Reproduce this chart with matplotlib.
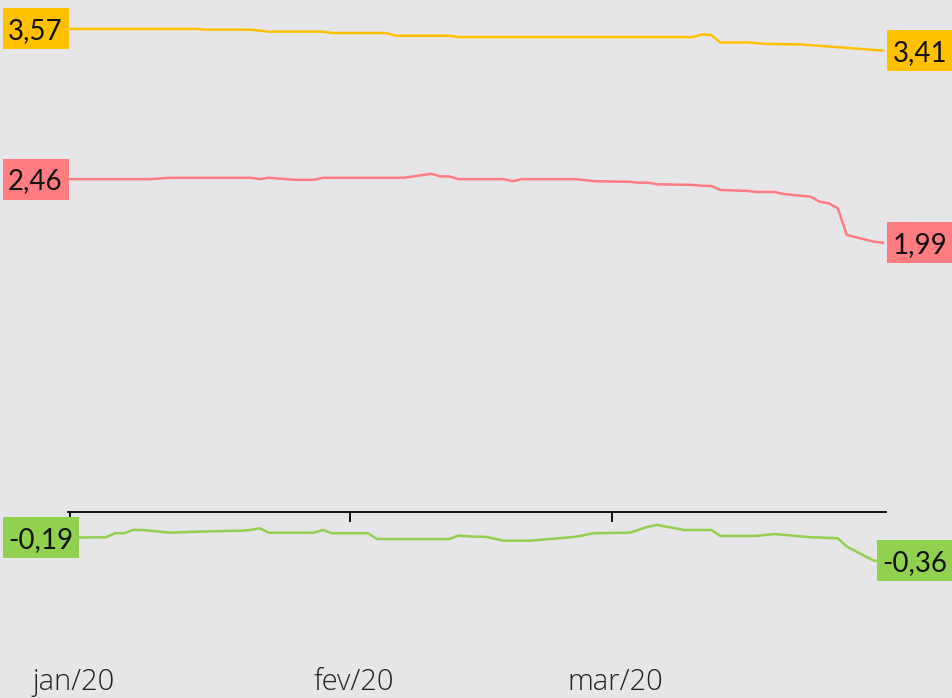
import numpy as np
import pandas as pd
import matplotlib
matplotlib.use('Agg')
import matplotlib.pyplot as plt
import matplotlib.dates as mdates
import matplotlib.transforms as mtrans
from matplotlib.patches import Rectangle

### === data ===
yellow_dates = ['2020-01-01', '2020-01-15', '2020-01-16', '2020-01-21', '2020-01-23', '2020-01-29',
                '2020-01-30', '2020-02-05', '2020-02-06', '2020-02-12', '2020-02-13', '2020-03-10',
                '2020-03-11', '2020-03-12', '2020-03-13', '2020-03-16', '2020-03-18', '2020-03-22',
                '2020-03-24', '2020-03-31']
yellow_vals = [3.57, 3.57, 3.565, 3.565, 3.55, 3.55,
               3.54, 3.54, 3.52, 3.52, 3.51, 3.51,
               3.53, 3.525, 3.47, 3.47, 3.46, 3.455,
               3.445, 3.41]

pink_dates = ['2020-01-01', '2020-01-10', '2020-01-12', '2020-01-21', '2020-01-22', '2020-01-23',
              '2020-01-26', '2020-01-28', '2020-01-29', '2020-02-07', '2020-02-10', '2020-02-11',
              '2020-02-12', '2020-02-13', '2020-02-18', '2020-02-19', '2020-02-20', '2020-02-26',
              '2020-02-28', '2020-03-03', '2020-03-04', '2020-03-05', '2020-03-06', '2020-03-10',
              '2020-03-11', '2020-03-12', '2020-03-13', '2020-03-16', '2020-03-17', '2020-03-19',
              '2020-03-20', '2020-03-23', '2020-03-24', '2020-03-25', '2020-03-26', '2020-03-27',
              '2020-03-30', '2020-03-31']
pink_vals = [2.46, 2.46, 2.47, 2.47, 2.46, 2.47,
             2.455, 2.455, 2.47, 2.47, 2.50, 2.48,
             2.48, 2.46, 2.46, 2.445, 2.46, 2.46,
             2.445, 2.44, 2.434, 2.434, 2.422, 2.417,
             2.41, 2.41, 2.38, 2.373, 2.365, 2.365,
             2.35, 2.33, 2.293, 2.282, 2.245, 2.047,
             1.998, 1.99]

green_dates = ['2020-01-01', '2020-01-05', '2020-01-06', '2020-01-07', '2020-01-08', '2020-01-09',
               '2020-01-12', '2020-01-15', '2020-01-20', '2020-01-21', '2020-01-22', '2020-01-23',
               '2020-01-28', '2020-01-29', '2020-01-30', '2020-02-03', '2020-02-04', '2020-02-12',
               '2020-02-13', '2020-02-15', '2020-02-16', '2020-02-18', '2020-02-21', '2020-02-26',
               '2020-02-28', '2020-03-03', '2020-03-05', '2020-03-06', '2020-03-09', '2020-03-12',
               '2020-03-13', '2020-03-17', '2020-03-19', '2020-03-23', '2020-03-26', '2020-03-27',
               '2020-03-30', '2020-03-31']
green_vals = [-0.19, -0.187, -0.157, -0.157, -0.133, -0.133,
              -0.153, -0.146, -0.138, -0.133, -0.12, -0.153,
              -0.153, -0.133, -0.157, -0.157, -0.2, -0.2,
              -0.175, -0.183, -0.183, -0.212, -0.212, -0.183,
              -0.157, -0.153, -0.109, -0.096, -0.133, -0.133,
              -0.177, -0.177, -0.163, -0.187, -0.194, -0.256,
              -0.36, -0.36]

tick_dates = ['2020-01-01', '2020-02-01', '2020-03-01']
tick_labels = ['jan/20', 'fev/20', 'mar/20']

### === styles ===
bg = '#E6E6E9'
series = [
    (yellow_dates, yellow_vals, '#FFC000'),
    (pink_dates, pink_vals, '#FF7C80'),
    (green_dates, green_vals, '#92D050'),
]
label_font = 'Lato'
tick_font = 'Open Sans'

W, H = 953, 698
fig = plt.figure(figsize=(W / 100, H / 100), dpi=100, facecolor=bg)
ax = fig.add_axes([68 / W, 0, 818 / W, 1])
ax.set_facecolor(bg)

for dates, vals, col in series:
    ax.plot(pd.to_datetime(dates), vals, color=col, lw=1.8, solid_joinstyle='round')

x0 = mdates.date2num(pd.Timestamp('2020-01-01'))
ax.set_xlim(x0 - 0.21, x0 + 90.34)
ax.set_ylim(-1.375, 3.784)

for s in ['top', 'left', 'right']:
    ax.spines[s].set_visible(False)
ax.spines['bottom'].set_position(('data', 0))
ax.spines['bottom'].set_linewidth(1.3)
ax.set_yticks([])
ax.set_xticks(pd.to_datetime(tick_dates))
ax.set_xticklabels([''] * len(tick_dates))
ax.tick_params(axis='x', direction='out', length=7, width=1.3, color='black')

tb = mtrans.blended_transform_factory(ax.transData, ax.transAxes)
for d, lab in zip(pd.to_datetime(tick_dates), tick_labels):
    ax.text(d + pd.Timedelta(hours=10), 0.011, lab, transform=tb, ha='center', va='baseline',
            fontsize=21, family=tick_font, fontweight='light', color='#222222')

### === value labels with boxes ===
fs = 20
cap = 0.717 * fs
lab_tr = mtrans.blended_transform_factory(fig.transFigure, ax.transData)
texts = []
for dates, vals, col in series:
    for v, xpix, ha in [(vals[0], 8, 'left'), (vals[-1], W - 6, 'right')]:
        tr = mtrans.offset_copy(lab_tr, fig=fig, y=-cap / 2, units='points')
        t = fig.text(xpix / W, v, ('%.2f' % v).replace('.', ','), transform=tr,
                     ha=ha, va='baseline', fontsize=fs, family=label_font,
                     color='#111111', zorder=6)
        texts.append((t, v, col))

fig.canvas.draw()
renderer = fig.canvas.get_renderer()
inv = fig.transFigure.inverted()
for t, v, col in texts:
    bb = t.get_window_extent(renderer)
    yc = ax.transData.transform((0, v))[1]
    bx0, by0 = inv.transform((bb.x0 - 5, yc - 20.5))
    bx1, by1 = inv.transform((bb.x1 + 6, yc + 20.5))
    fig.patches.append(Rectangle((bx0, by0), bx1 - bx0, by1 - by0, transform=fig.transFigure,
                                 facecolor=col, edgecolor='none', zorder=5))

fig.savefig('out.png', dpi=100, facecolor=bg)
